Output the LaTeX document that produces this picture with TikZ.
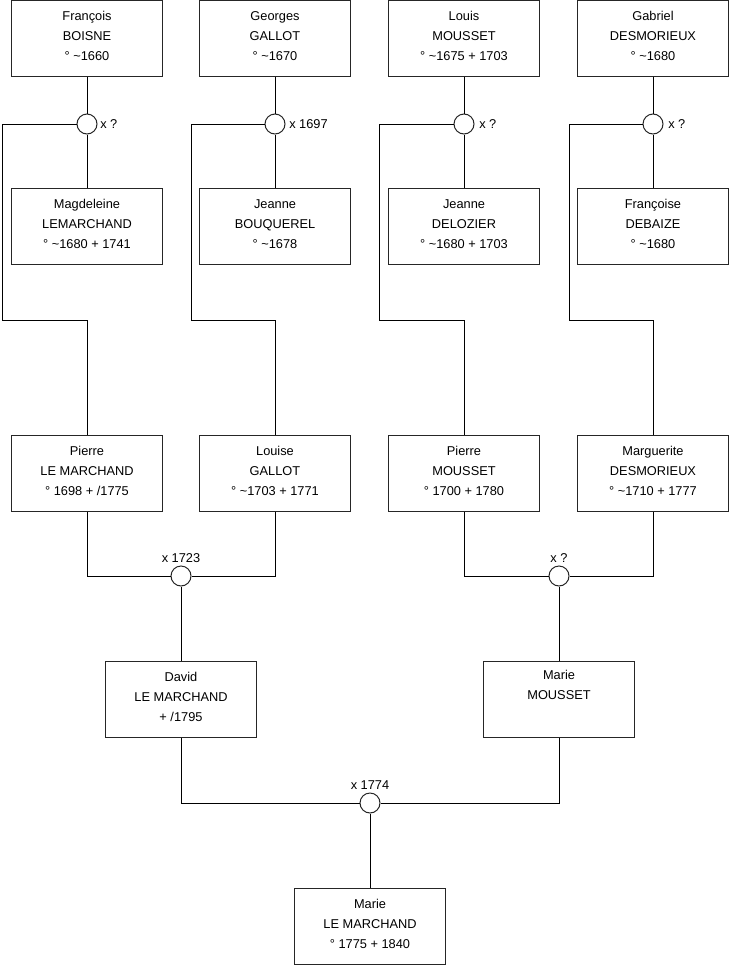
\documentclass[tikz,border=0pt]{standalone}
\usepackage{fontspec}
\setmainfont{Liberation Sans}
\newcommand\personbox[3]{%
  \node[person] (#1) at (#2) {};
  \node[ptext] (#1t) at ([yshift=1.6pt]#1.center) {#3};}
\begin{document}
\begin{tikzpicture}[x=0.75pt,y=-0.75pt,
  person/.style={draw=black!85,line width=0.75pt,fill=white,minimum width=113.25pt,minimum height=57pt,inner sep=0pt},
  ptext/.style={align=center,inner sep=0pt,font=\fontsize{9.6}{15}\selectfont},
  wed/.style={circle,draw=black!85,line width=0.75pt,fill=white,minimum size=15pt,inner sep=0pt},
  lbl/.style={font=\fontsize{9.6}{12}\selectfont,inner sep=0pt},
  link/.style={draw=black,line width=0.75pt}]
\useasboundingbox (0,0) rectangle (740,975);
% row 1
\personbox{a1}{87,38}{François\\BOISNE\\° \textasciitilde1660}
\personbox{a2}{275,38}{Georges\\GALLOT\\° \textasciitilde1670}
\personbox{a3}{464,38}{Louis\\MOUSSET\\° \textasciitilde1675 + 1703}
\personbox{a4}{653,38}{Gabriel\\DESMORIEUX\\° \textasciitilde1680}
% row 1 marriages
\node[wed] (m1) at (87,124) {};
\node[wed] (m2) at (275,124) {};
\node[wed] (m3) at (464,124) {};
\node[wed] (m4) at (653,124) {};
\node[lbl,anchor=west] (l1) at (100,124) {x ?};
\node[lbl,anchor=west] (l2) at (289,124) {x 1697};
\node[lbl,anchor=west] (l3) at (479,124) {x ?};
\node[lbl,anchor=west] (l4) at (668,124) {x ?};
% row 2
\personbox{b1}{87,226.5}{Magdeleine\\LEMARCHAND\\° \textasciitilde1680 + 1741}
\personbox{b2}{275,226.5}{Jeanne\\BOUQUEREL\\° \textasciitilde1678}
\personbox{b3}{464,226.5}{Jeanne\\DELOZIER\\° \textasciitilde1680 + 1703}
\personbox{b4}{653,226.5}{Françoise\\DEBAIZE\\° \textasciitilde1680}
% row 3
\personbox{p1}{87,473}{Pierre\\LE MARCHAND\\° 1698 + /1775}
\personbox{p2}{275,473}{Louise\\GALLOT\\° \textasciitilde1703 + 1771}
\personbox{p3}{464,473}{Pierre\\MOUSSET\\° 1700 + 1780}
\personbox{p4}{653,473}{Marguerite\\DESMORIEUX\\° \textasciitilde1710 + 1777}
\node[wed] (mA) at (181,576) {};
\node[wed] (mB) at (559,576) {};
\node[lbl] (lA) at (181,558) {x 1723};
\node[lbl] (lB) at (559,558) {x ?};
% row 4
\personbox{d1}{181,699.5}{David\\LE MARCHAND\\+ /1795}
\personbox{d2}{559,699.5}{Marie\\MOUSSET\\\strut}
\node[wed] (mC) at (370,803) {};
\node[lbl] (lC) at (370,785) {x 1774};
% row 5
\personbox{e1}{370,926.5}{Marie\\LE MARCHAND\\° 1775 + 1840}
% corners
\coordinate (t1) at (2,320);
\coordinate (t2) at (191,320);
\coordinate (t3) at (379,320);
\coordinate (t4) at (569,320);
% connectors
\draw[link] (a1) -- (m1) -- (b1);
\draw[link] (a2) -- (m2) -- (b2);
\draw[link] (a3) -- (m3) -- (b3);
\draw[link] (a4) -- (m4) -- (b4);
\draw[link] (m1) -| (t1) -| (p1);
\draw[link] (m2) -| (t2) -| (p2);
\draw[link] (m3) -| (t3) -| (p3);
\draw[link] (m4) -| (t4) -| (p4);
\draw[link] (p1) |- (mA) -| (p2);
\draw[link] (p3) |- (mB) -| (p4);
\draw[link] (mA) -- (d1);
\draw[link] (mB) -- (d2);
\draw[link] (d1) |- (mC) -| (d2);
\draw[link] (mC) -- (e1);
\end{tikzpicture}
\end{document}
